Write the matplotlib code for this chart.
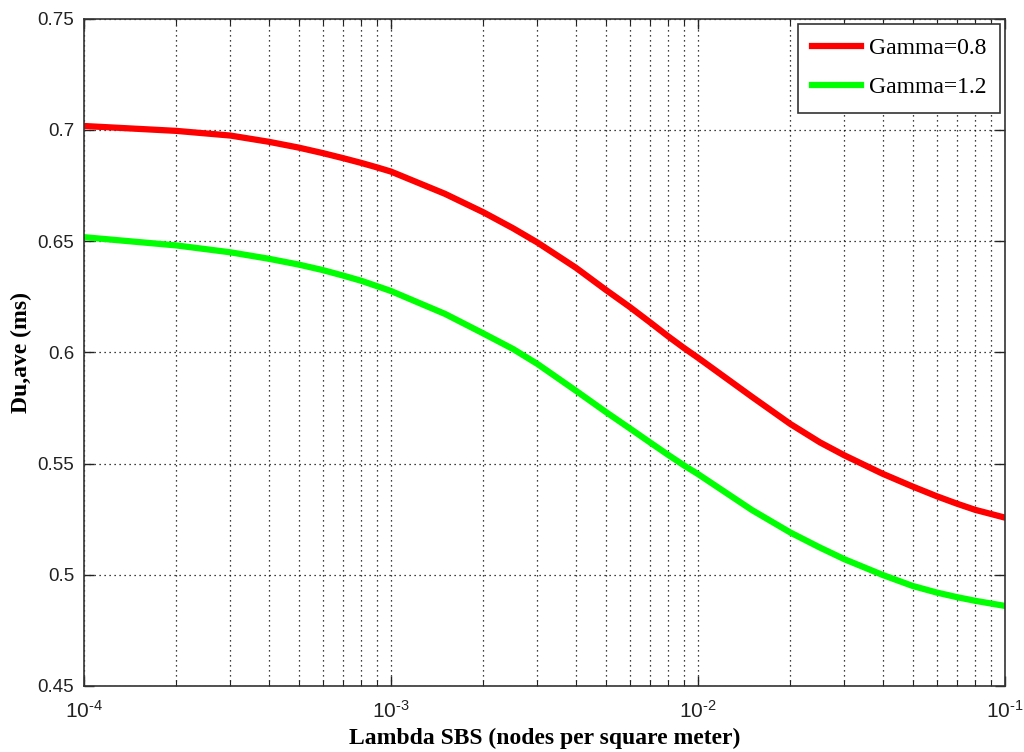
import numpy as np
import matplotlib
matplotlib.use("Agg")
import matplotlib.pyplot as plt
from matplotlib.ticker import LogLocator, NullFormatter, FixedLocator

plt.rcParams['mathtext.fontset'] = 'custom'
plt.rcParams['mathtext.rm'] = 'Liberation Sans'
plt.rcParams['mathtext.it'] = 'Liberation Sans'
plt.rcParams['mathtext.bf'] = 'Liberation Sans:bold'

lam = [1e-4, 2e-4, 3e-4, 4e-4, 5e-4, 6e-4, 7e-4, 8e-4, 9e-4,
       1e-3, 1.5e-3, 2e-3, 2.5e-3, 3e-3, 4e-3, 5e-3, 6e-3, 7e-3, 8e-3, 9e-3,
       1e-2, 1.5e-2, 2e-2, 2.5e-2, 3e-2, 4e-2, 5e-2, 6e-2, 7e-2, 8e-2, 1e-1]
gamma08 = [0.7018, 0.6996, 0.6975, 0.6947, 0.6921, 0.6896, 0.6873, 0.6852, 0.6832,
           0.6813, 0.6713, 0.6630, 0.6558, 0.6494, 0.6381, 0.6282, 0.6204, 0.6134, 0.6072, 0.6020,
           0.5976, 0.5800, 0.5678, 0.5595, 0.5537, 0.5454, 0.5397, 0.5353, 0.5319, 0.5292, 0.5257]
gamma12 = [0.6518, 0.6481, 0.6450, 0.6421, 0.6395, 0.6370, 0.6345, 0.6322, 0.6298,
           0.6276, 0.6173, 0.6085, 0.6015, 0.5948, 0.5828, 0.5733, 0.5658, 0.5594, 0.5539, 0.5492,
           0.5453, 0.5291, 0.5190, 0.5122, 0.5070, 0.4999, 0.4950, 0.4920, 0.4899, 0.4883, 0.4860]
series_labels = ['Gamma=0.8', 'Gamma=1.2']
yticks = [0.45, 0.5, 0.55, 0.6, 0.65, 0.7, 0.75]
ytick_labels = ['0.45', '0.5', '0.55', '0.6', '0.65', '0.7', '0.75']
xticks = [1e-4, 1e-3, 1e-2, 1e-1]
xtick_labels = [r'$10^{\text{-}4}$', r'$10^{\text{-}3}$', r'$10^{\text{-}2}$', r'$10^{\text{-}1}$']

fig = plt.figure(figsize=(10.24, 7.52), dpi=100)
ax = fig.add_axes([0.082, 0.0878, 0.8994, 0.8872])

ax.plot(lam, gamma08, color='#ff0000', lw=4.5, label=series_labels[0])
ax.plot(lam, gamma12, color='#00ff00', lw=4.5, label=series_labels[1])

ax.set_xscale('log')
ax.set_xlim(1e-4, 1e-1)
ax.set_ylim(0.45, 0.75)
ax.xaxis.set_major_locator(FixedLocator(xticks))
ax.set_xticklabels(xtick_labels)
ax.xaxis.set_minor_locator(LogLocator(base=10, subs=np.arange(2, 10)))
ax.xaxis.set_minor_formatter(NullFormatter())
ax.set_yticks(yticks)
ax.set_yticklabels(ytick_labels)

ax.grid(True, which='major', axis='both', color='black', linestyle=(0, (1, 3)), linewidth=0.9)
ax.grid(True, which='minor', axis='x', color='black', linestyle=(0, (1, 3)), linewidth=0.9)

ax.tick_params(axis='both', which='both', direction='in', top=True, right=True,
               labelsize=13.5, colors='#222222')
ax.tick_params(axis='x', which='major', labelsize=15, pad=10)
ax.tick_params(axis='y', pad=7)
ax.tick_params(which='major', length=7, width=1)
ax.tick_params(which='minor', length=4, width=0.8)
for lbl in ax.get_yticklabels():
    lbl.set_family('Liberation Sans')
for s in ax.spines.values():
    s.set_color('#333333')
    s.set_linewidth(1.2)

ax.set_xlabel('Lambda SBS (nodes per square meter)', family='Liberation Serif',
              fontweight='bold', fontsize=17, labelpad=4)
ax.set_ylabel('Du,ave (ms)', family='Liberation Serif', fontweight='bold',
              fontsize=17, labelpad=4)

leg = ax.legend(loc='upper right', prop={'family': 'Liberation Serif', 'size': 17},
                handlelength=2.1, fancybox=False, edgecolor='#333333', framealpha=1,
                borderpad=0.6, labelspacing=0.75, handletextpad=0.3,
                borderaxespad=0.2)
leg.get_frame().set_linewidth(1.2)

fig.savefig('out.png', dpi=100)
